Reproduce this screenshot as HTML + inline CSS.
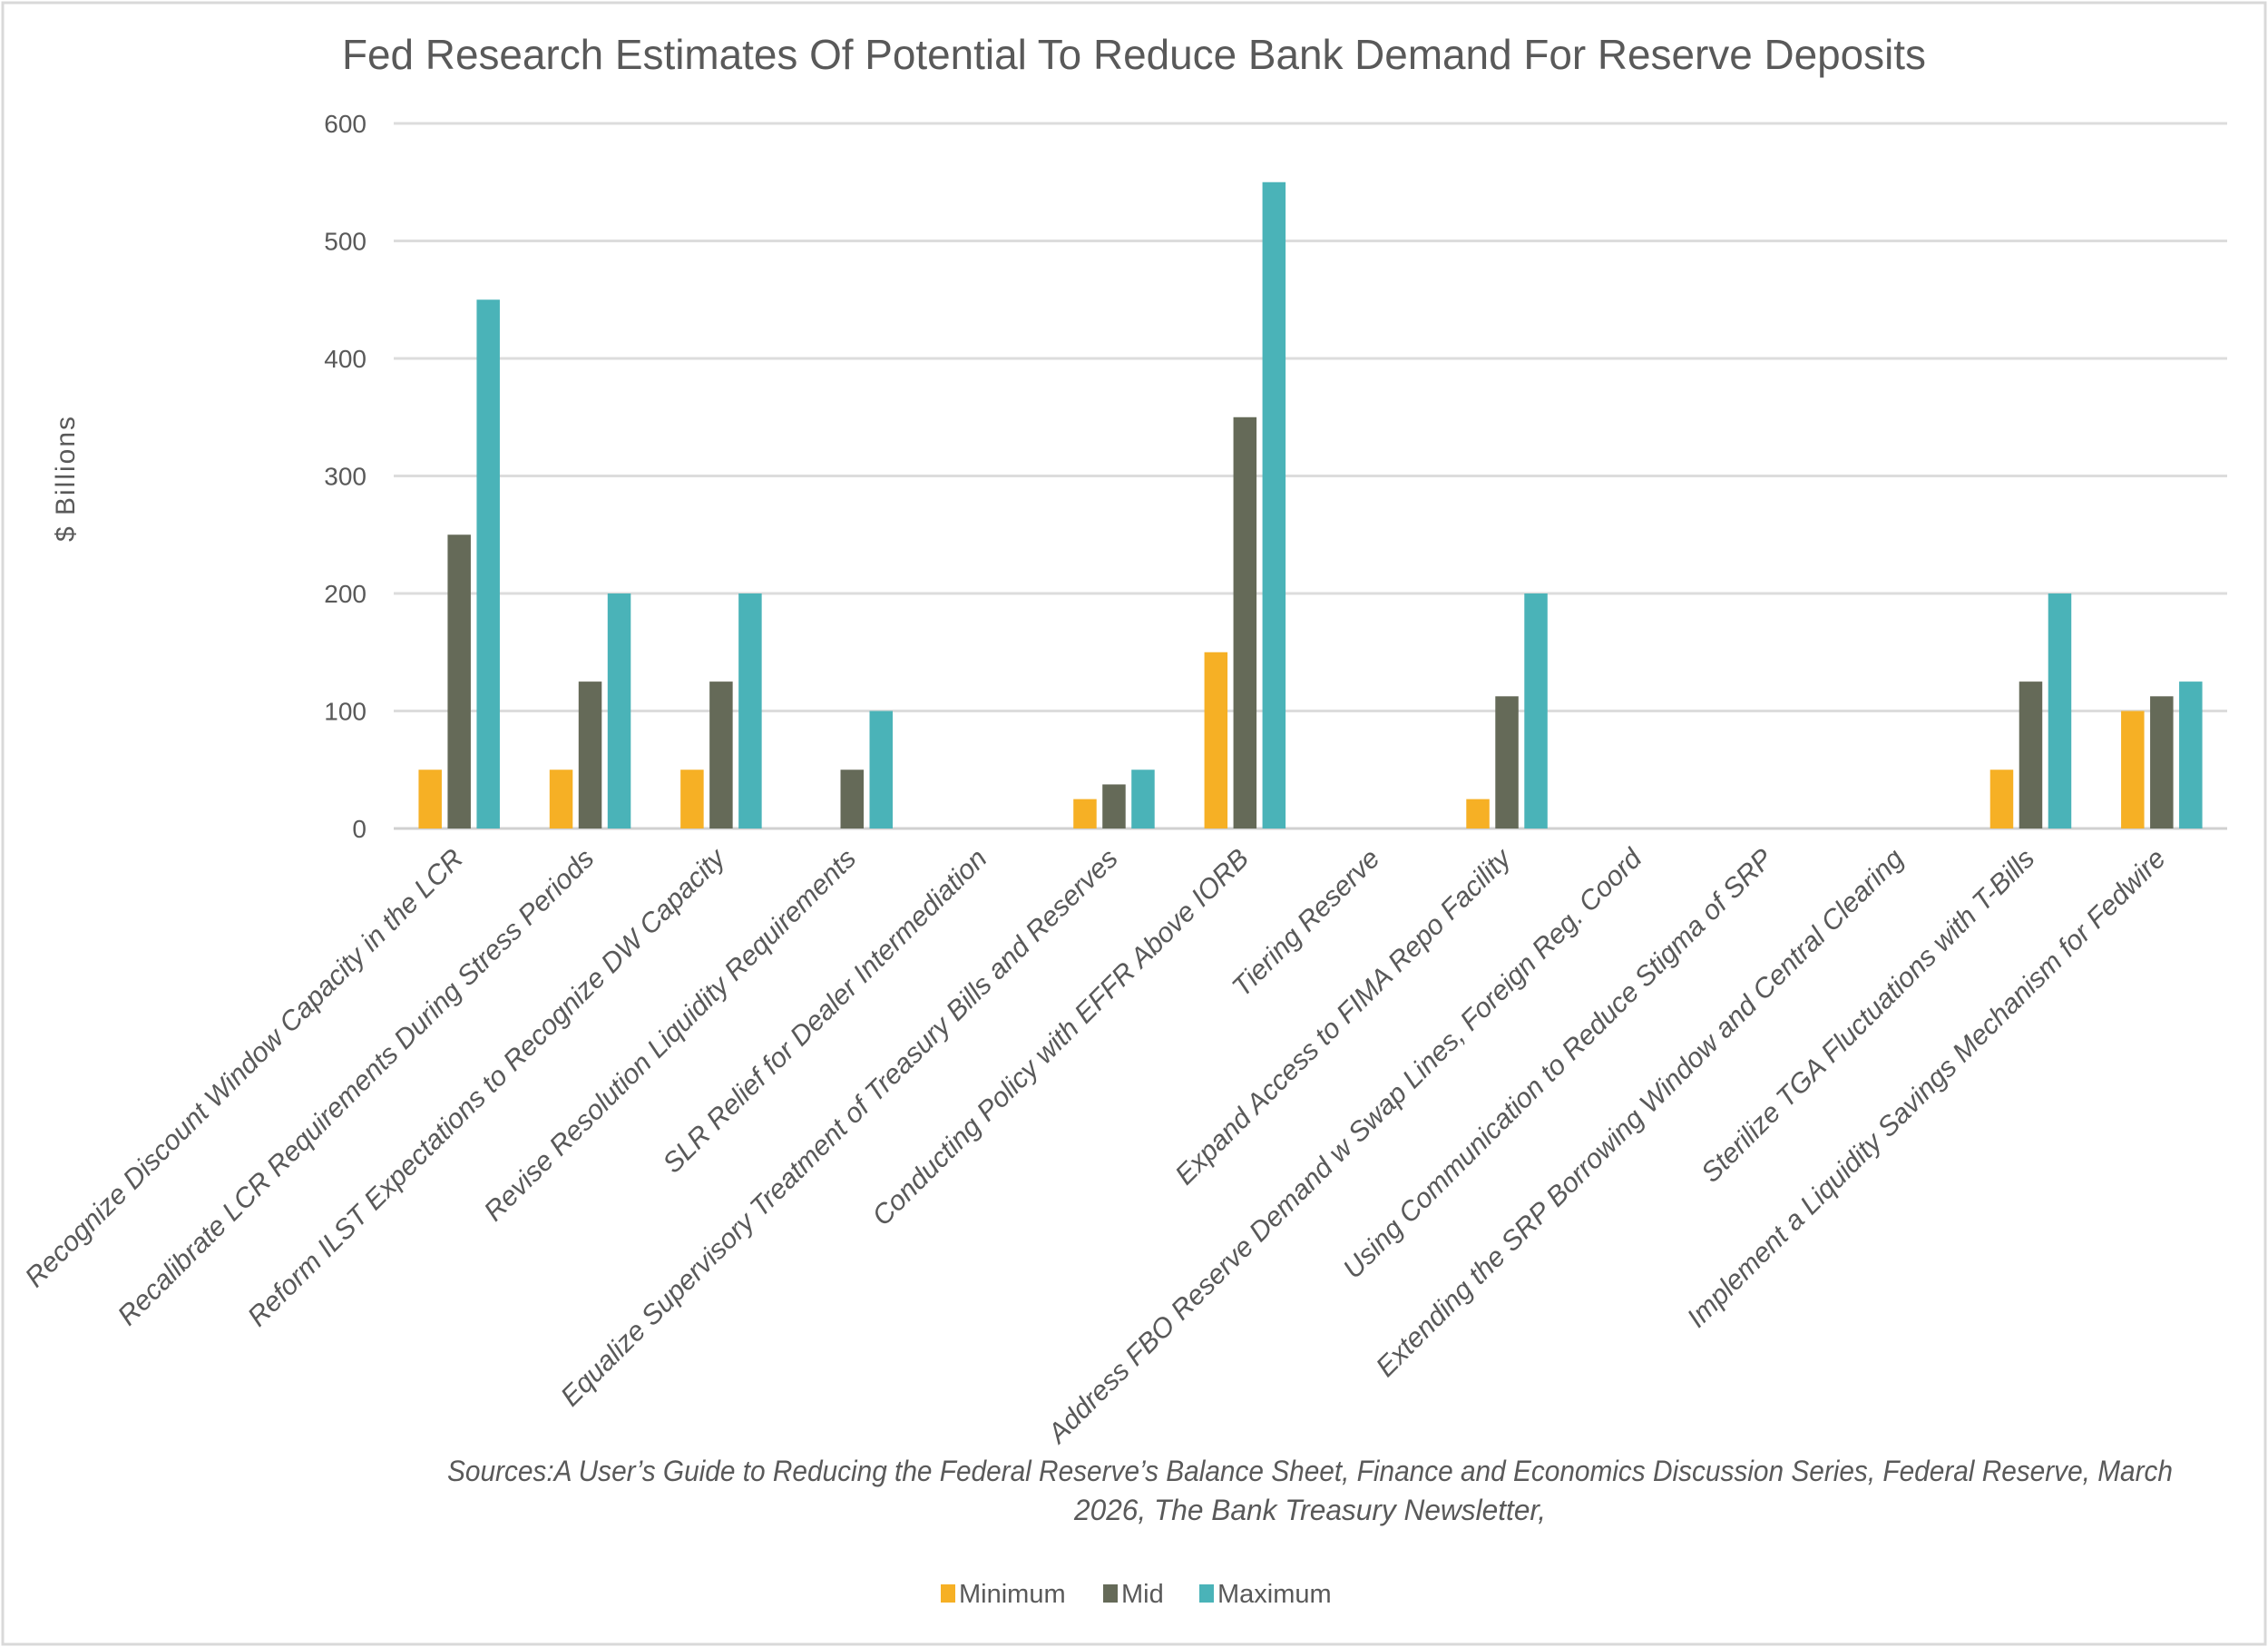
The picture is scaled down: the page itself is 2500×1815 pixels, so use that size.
<!DOCTYPE html>
<html><head><meta charset="utf-8"><style>
html,body{margin:0;padding:0;background:#fff}
svg{display:block;font-family:"Liberation Sans",sans-serif}
</style></head><body>
<svg id="chart" width="2500" height="1815" viewBox="0 0 2500 1815" xmlns="http://www.w3.org/2000/svg">
<rect x="3" y="3" width="2494" height="1809" fill="#fff" stroke="#d9d9d9" stroke-width="3"/>
<text x="1250" y="76" text-anchor="middle" font-size="46" fill="#595959" textLength="1746" lengthAdjust="spacingAndGlyphs">Fed Research Estimates Of Potential To Reduce Bank Demand For Reserve Deposits</text>
<text transform="translate(82,527) rotate(-90)" text-anchor="middle" font-size="30" letter-spacing="2" fill="#595959">$ Billions</text>
<g id="grid"></g><g id="bars"></g><g id="labels"></g>
<text x="1444" y="1632" text-anchor="middle" font-size="32" font-style="italic" fill="#595959" textLength="1902" lengthAdjust="spacingAndGlyphs">Sources:A User’s Guide to Reducing the Federal Reserve’s Balance Sheet, Finance and Economics Discussion Series, Federal Reserve, March</text>
<text x="1444" y="1675" text-anchor="middle" font-size="32" font-style="italic" fill="#595959" textLength="520" lengthAdjust="spacingAndGlyphs">2026, The Bank Treasury Newsletter,</text>
<g>
<rect x="1037" y="1746" width="16" height="20" fill="#F6B025"/>
<text x="1057" y="1766" font-size="29" fill="#595959">Minimum</text>
<rect x="1216" y="1746" width="16" height="20" fill="#656A58"/>
<text x="1236" y="1766" font-size="29" fill="#595959">Mid</text>
<rect x="1322" y="1746" width="16" height="20" fill="#4AB3B8"/>
<text x="1342" y="1766" font-size="29" fill="#595959">Maximum</text>
</g>
</svg>
<script>
const categories=["Recognize Discount Window Capacity in the LCR","Recalibrate LCR Requirements During Stress Periods","Reform ILST Expectations to Recognize DW Capacity","Revise Resolution Liquidity Requirements","SLR Relief for Dealer Intermediation","Equalize Supervisory Treatment of Treasury Bills and Reserves","Conducting Policy with EFFR Above IORB","Tiering Reserve","Expand Access to FIMA Repo Facility","Address FBO Reserve Demand w Swap Lines, Foreign Reg. Coord","Using Communication to Reduce Stigma of SRP","Extending the SRP Borrowing Window and Central Clearing","Sterilize TGA Fluctuations with T-Bills","Implement a Liquidity Savings Mechanism for Fedwire"];
const minimum=[50,50,50,0,0,25,150,0,25,0,0,0,50,100];
const mid=[250,125,125,50,0,37.5,350,0,112.5,0,0,0,125,112.5];
const maximum=[450,200,200,100,0,50,550,0,200,0,0,0,200,125];
const yTicks=[0,100,200,300,400,500,600];
const NS="http://www.w3.org/2000/svg";
const L=434,R=2455,T=136,B=913,YMAX=600;
const y=v=>B-(B-T)*v/YMAX;
const band=(R-L)/categories.length;
const xc=i=>L+band*(i+0.5);
function mk(tag,attrs,parent){const e=document.createElementNS(NS,tag);for(const k in attrs)e.setAttribute(k,attrs[k]);document.getElementById(parent).appendChild(e);return e;}
yTicks.forEach(t=>{
  const g=mk('line',{x1:L,x2:R,y1:y(t),y2:y(t),stroke:t===0?'#d0d0d0':'#dcdcdc','stroke-width':3},'grid');
  
  
  const tx=mk('text',{x:L-30,y:y(t)+10,'text-anchor':'end','font-size':28,fill:'#595959'},'grid');
  tx.textContent=t;
  
  
});
const series=[["minimum",minimum,"#F6B025"],["mid",mid,"#656A58"],["maximum",maximum,"#4AB3B8"]];
const bw=25.5,gap=6.5;
categories.forEach((c,i)=>{
  series.forEach(([nm,arr,col],s)=>{
    const v=arr[i];
    const x=xc(i)+(s-1)*(bw+gap)-bw/2;
    const r=mk('rect',{x:x,y:y(v),width:bw,height:B-y(v),fill:col},'bars');
    
    
  });
  const lx=xc(i)+6,ly=948;
  const t=mk('text',{x:lx,y:ly,'text-anchor':'end','font-size':30.5,'font-style':'italic',fill:'#595959',transform:`rotate(-45 ${lx} ${ly})`},'labels');
  t.textContent=c;
  
  
});
</script>
</body></html>
